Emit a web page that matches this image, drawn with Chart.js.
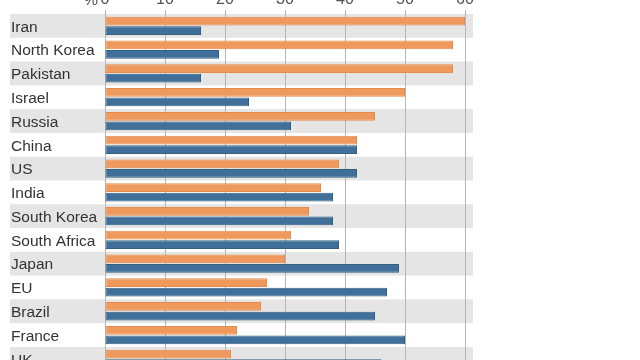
<!DOCTYPE html>
<html>
<head>
<meta charset="utf-8">
<script src="https://cdn.jsdelivr.net/npm/chart.js@4.4.0/dist/chart.umd.min.js"></script>
<style>
  html, body { margin: 0; padding: 0; background: #ffffff; overflow: hidden; width: 640px; height: 360px; }
  #wrap { position: absolute; left: 0; top: 0; width: 640px; height: 380px; }
</style>
</head>
<body>
<div id="wrap"><canvas id="c" width="640" height="380"></canvas></div>
<script>
const categories = ["Iran", "North Korea", "Pakistan", "Israel", "Russia", "China", "US", "India", "South Korea", "South Africa", "Japan", "EU", "Brazil", "France", "UK"];
const orangeValues = [60, 58, 58, 50, 45, 42, 39, 36, 34, 31, 30, 27, 26, 22, 21];
const blueValues = [16, 19, 16, 24, 31, 42, 42, 38, 38, 39, 49, 47, 45, 50, 46];
const xTicks = [0, 10, 20, 30, 40, 50, 60];

const bandPlugin = {
  id: 'bands',
  beforeDraw(chart) {
    const ctx = chart.ctx;
    const y = chart.scales.y;
    const x = chart.scales.x;
    const step = Math.abs(y.getPixelForValue(1) - y.getPixelForValue(0));
    const right = x.getPixelForValue(60) + 8;
    ctx.save();
    ctx.fillStyle = '#e5e5e5';
    for (let i = 0; i < categories.length; i += 2) {
      const c = y.getPixelForValue(i);
      ctx.fillRect(10, c - step / 2, right - 10, step);
    }
    ctx.restore();
  },
  afterDraw(chart) {
    const ctx = chart.ctx;
    const x = chart.scales.x;
    ctx.save();
    ctx.fillStyle = '#555555';
    ctx.font = '16px "Liberation Sans", Arial, sans-serif';
    ctx.textAlign = 'right';
    ctx.textBaseline = 'bottom';
    ctx.fillText('%', x.getPixelForValue(0) - 7, x.bottom - 5);
    ctx.restore();
  }
};

new Chart(document.getElementById('c'), {
  type: 'bar',
  data: {
    labels: categories,
    datasets: [
      { data: orangeValues, backgroundColor: '#ef995c', borderColor: '#e48b4e', borderWidth: 1, borderSkipped: false, categoryPercentage: 0.8, barPercentage: 0.92 },
      { data: blueValues, backgroundColor: '#40709a', borderColor: '#33607f', borderWidth: 1, borderSkipped: false, categoryPercentage: 0.8, barPercentage: 0.92 }
    ]
  },
  options: {
    indexAxis: 'y',
    responsive: false,
    animation: false,
    devicePixelRatio: 1,
    layout: { padding: { left: 11, right: 175, top: 0, bottom: 6 } },
    plugins: { legend: { display: false }, tooltip: { enabled: false } },
    scales: {
      x: {
        position: 'top',
        min: 0, max: 60,
        afterFit(s) { s.height = 14; },
        afterBuildTicks(s) { s.ticks = xTicks.map(v => ({ value: v })); },
        border: { display: false },
        grid: { color: '#b5b5b5', lineWidth: 1, drawTicks: true, tickLength: 4 },
        ticks: { color: '#555555', padding: 1, maxRotation: 0, font: { family: '"Liberation Sans", Arial, sans-serif', size: 16 } }
      },
      y: {
        afterFit(s) { s.width = 94; },
        border: { display: false },
        grid: { display: false },
        ticks: { crossAlign: 'far', color: '#333333', padding: 0, labelOffset: 1.5, font: { family: '"Liberation Sans", Arial, sans-serif', size: 15.5 } }
      }
    }
  },
  plugins: [bandPlugin]
});
</script>
</body>
</html>
